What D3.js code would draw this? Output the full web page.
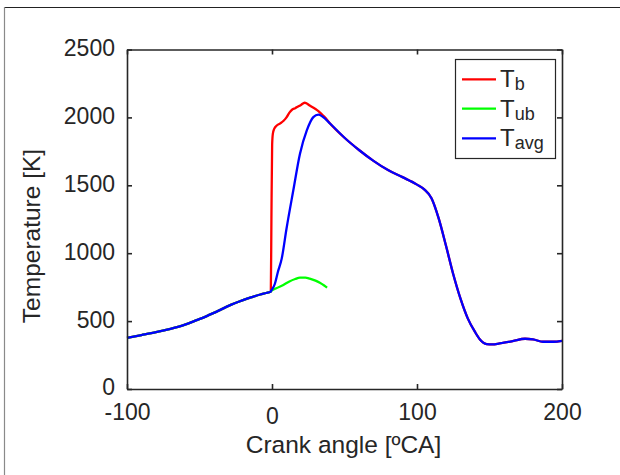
<!DOCTYPE html>
<html>
<head>
<meta charset="utf-8">
<script src="https://cdn.jsdelivr.net/npm/d3@7"></script>
<style>
  html, body { margin: 0; padding: 0; background: #fff; }
  svg { display: block; }
  text { font-family: "Liberation Sans", Arial, Helvetica, sans-serif; fill: #262626; }
</style>
</head>
<body>
<svg id="chart" width="620" height="475"></svg>
<script>
// ---- data ----
const xTicks = [-100, 0, 100, 200];
const yTicks = [0, 500, 1000, 1500, 2000, 2500];
const xLabel = "Crank angle [ºCA]";
const yLabel = "Temperature [K]";

// compression part shared by all zones (before combustion)
const preAngle = [-100, -90, -80, -70, -60, -52, -45, -36, -30, -20, -14, -8, -4, -1];
const preTemp  = [377, 397, 418, 443, 474, 507, 537, 581, 612, 654, 676, 696, 707, 716];

// burned zone temperature T_b
const tbAngle = [-0.8, -0.4, 0.1, 0.6, 1.5, 3.5, 6, 8, 10, 12, 14, 16, 18, 20, 22.5, 24, 26, 28, 30, 32, 34, 36,
                 40, 50, 60, 70, 80, 90, 100, 105, 110, 115, 120, 125, 130, 135, 140, 143.4, 148, 152, 157, 166, 174.5, 180, 187, 194, 200];
const tbTemp  = [720, 1250, 1800, 1880, 1915, 1942, 1958, 1975, 2000, 2035, 2058, 2068, 2080, 2092, 2108, 2102, 2088, 2075, 2062, 2046, 2026, 2006,
                 1955, 1850, 1760, 1680, 1612, 1560, 1505, 1470, 1405, 1255, 1055, 845, 665, 520, 420, 365, 331, 328, 336, 353, 370, 365, 348, 348, 355];

// unburned zone temperature T_ub
const tubAngle = [-0.8, 3, 7.8, 12, 16, 19.3, 23, 26, 30, 33, 36, 38];
const tubTemp  = [720, 742, 766, 792, 810, 820, 820, 813, 798, 782, 762, 746];

// average temperature T_avg
const tavgAngle = [-0.8, 2, 4, 6.7, 10, 14.7, 19.3, 24, 28.5, 32, 35, 40, 50, 60, 70, 80, 90, 100, 105, 110, 115, 120, 125, 130, 135, 140,
                   143.4, 148, 152, 157, 166, 174.5, 180, 187, 194, 200];
const tavgTemp  = [720, 775, 860, 960, 1180, 1463, 1733, 1904, 2002, 2020, 2005, 1955, 1850, 1760, 1680, 1612, 1560, 1505, 1470, 1405, 1255, 1055, 845, 665, 520, 420,
                   365, 331, 328, 336, 353, 370, 365, 348, 348, 355];

const seriesNames = ["b", "ub", "avg"];
const seriesColors = ["#ff0000", "#00ff00", "#0000ff"];

// ---- drawing ----
const svg = d3.select("#chart");
const L = 127, R = 562, T = 49.5, B = 389;
const x = d3.scaleLinear().domain([-100, 200]).range([L, R]);
const y = d3.scaleLinear().domain([0, 2500]).range([B, T]);
const axisColor = "#262626";
const plain = d => String(d);

// figure frame (partial border as in the reference)
svg.append("line").attr("x1", 4).attr("x2", 620).attr("y1", 7.5).attr("y2", 7.5)
  .attr("stroke", "#222").attr("stroke-width", 1.2);
svg.append("line").attr("x1", 4.5).attr("x2", 4.5).attr("y1", 7).attr("y2", 475)
  .attr("stroke", "#8a8a8a").attr("stroke-width", 1.2);

function zip(a, b) { return a.map((v, i) => [v, b[i]]); }
const pre = zip(preAngle, preTemp);
const lineGen = d3.line().x(d => x(d[0])).y(d => y(d[1])).curve(d3.curveMonotoneX);

const seriesData = [
  pre.concat(zip(tbAngle, tbTemp)),
  pre.concat(zip(tubAngle, tubTemp)),
  pre.concat(zip(tavgAngle, tavgTemp))
];

const plot = svg.append("g");
seriesData.forEach((d, i) => {
  plot.append("path").datum(d)
    .attr("d", lineGen)
    .attr("fill", "none")
    .attr("stroke", seriesColors[i])
    .attr("stroke-width", 2.3)
    .attr("stroke-linejoin", "round");
});

// axes
const fs = 23;
const gx = svg.append("g").attr("transform", `translate(0,${B})`)
  .call(d3.axisBottom(x).tickValues(xTicks).tickFormat(plain).tickSizeInner(-5).tickSizeOuter(0).tickPadding(15));
const gxt = svg.append("g").attr("transform", `translate(0,${T})`)
  .call(d3.axisTop(x).tickValues(xTicks).tickSizeInner(-5).tickSizeOuter(0).tickFormat(""));
const gy = svg.append("g").attr("transform", `translate(${L},0)`)
  .call(d3.axisLeft(y).tickValues(yTicks).tickFormat(plain).tickSizeInner(-5).tickSizeOuter(0).tickPadding(12));
const gyr = svg.append("g").attr("transform", `translate(${R},0)`)
  .call(d3.axisRight(y).tickValues(yTicks).tickSizeInner(-5).tickSizeOuter(0).tickFormat(""));

[gx, gxt, gy, gyr].forEach(g => {
  g.select(".domain").attr("stroke", axisColor).attr("stroke-width", 1.6);
  g.selectAll(".tick line").attr("stroke", axisColor).attr("stroke-width", 1.6);
  g.selectAll(".tick text").attr("font-size", fs).attr("fill", axisColor)
    .attr("font-family", "'Liberation Sans', Arial, sans-serif");
});
gy.selectAll(".tick text").attr("dy", "0.26em");
// the "0" label sits slightly lower in the reference
gx.selectAll(".tick text").filter(d => d === 0).attr("y", 19);

// axis labels
svg.append("text").attr("x", (L + R) / 2 - 1).attr("y", 453)
  .attr("text-anchor", "middle").attr("font-size", 24.5).text(xLabel);
svg.append("text").attr("transform", "translate(40,236) rotate(-90)")
  .attr("text-anchor", "middle").attr("font-size", 24.5).text(yLabel);

// legend
const lg = svg.append("g");
lg.append("rect").attr("x", 455.5).attr("y", 59.5).attr("width", 100).attr("height", 99)
  .attr("fill", "#fff").attr("stroke", axisColor).attr("stroke-width", 1.2);
const legY = [79.3, 108.7, 138.3];
seriesNames.forEach((n, i) => {
  lg.append("line").attr("x1", 462).attr("x2", 496).attr("y1", legY[i]).attr("y2", legY[i])
    .attr("stroke", seriesColors[i]).attr("stroke-width", 2.3);
  const t = lg.append("text").attr("x", 500).attr("y", legY[i] + 8).attr("font-size", 24).attr("fill", "#000");
  t.append("tspan").text("T");
  t.append("tspan").attr("dy", 3).attr("font-size", 18).text(n);
});
</script>
</body>
</html>
